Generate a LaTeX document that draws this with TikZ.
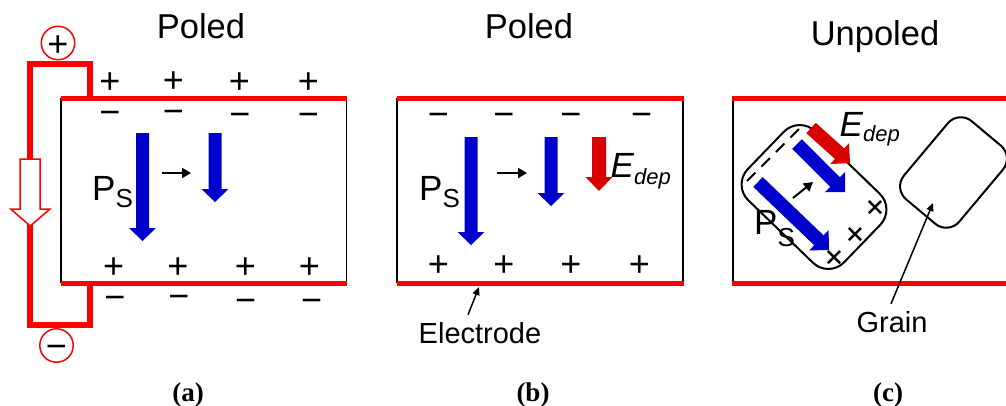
\documentclass[tikz,border=0pt]{standalone}
\usepackage{fontspec}
\setmainfont{Liberation Sans}
\newfontfamily\capfont{Liberation Serif}
\usetikzlibrary{calc,arrows.meta}
\definecolor{elecred}{RGB}{255,0,0}
\definecolor{arrred}{RGB}{218,0,0}
\definecolor{pblue}{RGB}{0,0,204}
% block arrow: #1 colour, #2 start, #3 tip, #4 shaft half width, #5 head half width, #6 head length
\newcommand\blockarr[6]{%
  \coordinate (ba-s) at (#2);
  \coordinate (ba-t) at (#3);
  \coordinate (ba-b) at ($(ba-t)!#6!(ba-s)$);
  \fill[#1] ($(ba-s)!#4!90:(ba-t)$) -- ($(ba-b)!#4!-90:(ba-s)$) -- ($(ba-b)!#5!-90:(ba-s)$)
    -- (ba-t) -- ($(ba-b)!#5!90:(ba-s)$) -- ($(ba-b)!#4!90:(ba-s)$) -- ($(ba-s)!#4!-90:(ba-t)$) -- cycle;}
\begin{document}
\begin{tikzpicture}[x=1pt,y=-1pt,
  lbl/.style={inner sep=0pt, anchor=base},
  titletext/.style={lbl, font=\fontsize{34.5}{34.5}\selectfont},
  panelcap/.style={lbl, font=\capfont\bfseries\fontsize{27}{27}\selectfont},
  chg/.style={inner sep=0pt, font=\fontsize{36}{36}\selectfont, text height=26pt, text depth=0pt},
  circ/.style={circle, draw=elecred, line width=1.5pt, minimum size=33pt, inner sep=0pt,
               font=\fontsize{36}{36}\selectfont, text height=26pt, text depth=0pt},
  sideline/.style={draw=black, line width=1.5pt},
  elec/.style={draw=elecred, line width=5pt},
  wire/.style={draw=elecred, line width=6pt, line join=miter},
  grainline/.style={draw=black, line width=2pt},
  chargedash/.style={draw=black, line width=2pt, dash pattern=on 12pt off 8.5pt},
  ptr/.style={draw=black, line width=2.5pt, -{Triangle[length=9pt,width=10pt]}},
  thinptr/.style={draw=black, line width=1.5pt, -{Triangle[length=8pt,width=7pt]}},
  lab/.style={lbl, font=\fontsize{29}{29}\selectfont}
]
\useasboundingbox (0,0) rectangle (1006,405);

% ---------------- panel (a) ----------------
\node[titletext] (ta) at (201,38) {Poled};
\draw[wire] (90,98) -- (90,64) -- (29.5,64) -- (29.5,325) -- (90,325) -- (90,283);
\draw[draw=elecred, line width=1.5pt, fill=white]
  (20,159) -- (40,159) -- (40,209) -- (50,209) -- (30.3,226) -- (10.7,209) -- (20,209) -- cycle;
\node[circ] (plus) at (58,43) {+};
\node[circ] (minus) at (56.5,345.5) {−};
\draw[sideline] (61,98) -- (61,283);
\draw[sideline] (346.5,98) -- (346.5,283);
\draw[elec] (61,98) -- (347,98);
\draw[elec] (61,283) -- (347,283);
\foreach \x/\y [count=\i] in {110/80, 173.3/79, 239.3/80, 308.3/80}
  \node[chg] (atp\i) at (\x,\y) {+};
\foreach \x/\y [count=\i] in {110/111.7, 173.3/110, 240/113.3, 308.3/113.3}
  \node[chg] (atm\i) at (\x,\y) {−};
\foreach \x/\y [count=\i] in {113.7/265, 178/265, 245.3/265, 309.3/265}
  \node[chg] (abp\i) at (\x,\y) {+};
\foreach \x/\y [count=\i] in {115/296.7, 179/295, 245.7/299, 311.7/299}
  \node[chg] (abm\i) at (\x,\y) {−};
\node[lbl, anchor=base west] (psa) at (92,200)
  {\fontsize{35}{35}\selectfont P\raisebox{-7pt}{\fontsize{26}{26}\selectfont S}};
\blockarr{pblue}{142.5,133}{142.5,241}{6.5pt}{13.5pt}{13pt}
\blockarr{pblue}{215,133}{215,202}{6.5pt}{13.5pt}{13pt}
\coordinate (aha) at (162,173);
\coordinate (ahb) at (191,173);
\draw[ptr] (aha) -- (ahb);
\node[panelcap] (capa) at (188,401) {(a)};

% ---------------- panel (b) ----------------
\node[titletext] (tb) at (529,38) {Poled};
\draw[sideline] (397,98) -- (397,283);
\draw[sideline] (683,98) -- (683,283);
\draw[elec] (397,98) -- (684,98);
\draw[elec] (397,283) -- (684,283);
\foreach \x [count=\i] in {438.3, 504, 571, 641.7}
  \node[chg] (btm\i) at (\x,113.3) {−};
\foreach \x [count=\i] in {438.3, 504, 571, 639.3}
  \node[chg] (bbp\i) at (\x,263.3) {+};
\node[lbl, anchor=base west] (psb) at (419,200)
  {\fontsize{35}{35}\selectfont P\raisebox{-7pt}{\fontsize{26}{26}\selectfont S}};
\blockarr{pblue}{471,137}{471,245}{6.5pt}{13.5pt}{13pt}
\blockarr{pblue}{551,137}{551,206}{6.5pt}{13.5pt}{13pt}
\blockarr{arrred}{599,137}{599,191}{7pt}{13.5pt}{14pt}
\node[lbl, anchor=base west] (edb) at (610.5,177)
  {\itshape\fontsize{35}{35}\selectfont E\raisebox{-7pt}{\fontsize{22}{22}\selectfont dep}};
\coordinate (bha) at (497,173);
\coordinate (bhb) at (527,173);
\draw[ptr] (bha) -- (bhb);
\node[lab] (electrode) at (480,343) {Electrode};
\coordinate (electip) at (479,287);
\draw[thinptr] ($(electrode.north)+(-12,-7)$) -- (electip);
\node[panelcap] (capb) at (533,401) {(b)};

% ---------------- panel (c) ----------------
\node[titletext] (tc) at (875,45) {Unpoled};
\draw[sideline] (733,98) -- (733,283);
\draw[elec] (732,98) -- (1006,98);
\draw[elec] (732,283) -- (1006,283);
% grains
\begin{scope}[shift={(814,197)}, rotate=-44]
  \draw[grainline, rounded corners=22pt] (-67,-48) rectangle (67,48);
\end{scope}
\begin{scope}[shift={(953.5,172.5)}, rotate=50]
  \draw[grainline, rounded corners=17pt] (-51,-36) rectangle (51,36);
\end{scope}
% bound charges
\coordinate (dashA) at (747,181);
\coordinate (dashB) at (799,129);
\draw[chargedash] (dashA) -- (dashB);
\foreach \x/\y [count=\i] in {875/207, 855/234, 834/257}
  \node[chg, rotate=45] (cp\i) at (\x,\y) {+};
\node[lbl, anchor=base west] (psc) at (754,234)
  {\fontsize{35}{35}\selectfont P\raisebox{-12pt}{\fontsize{26}{26}\selectfont S}};
\node[lbl, anchor=base west] (edc) at (839.5,136)
  {\itshape\fontsize{35}{35}\selectfont E\raisebox{-5pt}{\fontsize{22}{22}\selectfont dep}};
\blockarr{pblue}{797,144}{845,192}{6.8pt}{14pt}{14pt}
\blockarr{pblue}{758,182}{829,250}{6.8pt}{14pt}{14pt}
\blockarr{arrred}{811,128}{850,163}{7pt}{14pt}{14pt}
\coordinate (cha) at (793,198);
\coordinate (chb) at (813,182);
\draw[ptr, line width=2pt] (cha) -- (chb);
\node[lab] (grainlbl) at (892,332) {Grain};
\coordinate (graintip) at (933,203);
\draw[thinptr] ($(grainlbl.north)+(-1,-7)$) -- (graintip);
\node[panelcap] (capc) at (888,401) {(c)};
\end{tikzpicture}
\end{document}
